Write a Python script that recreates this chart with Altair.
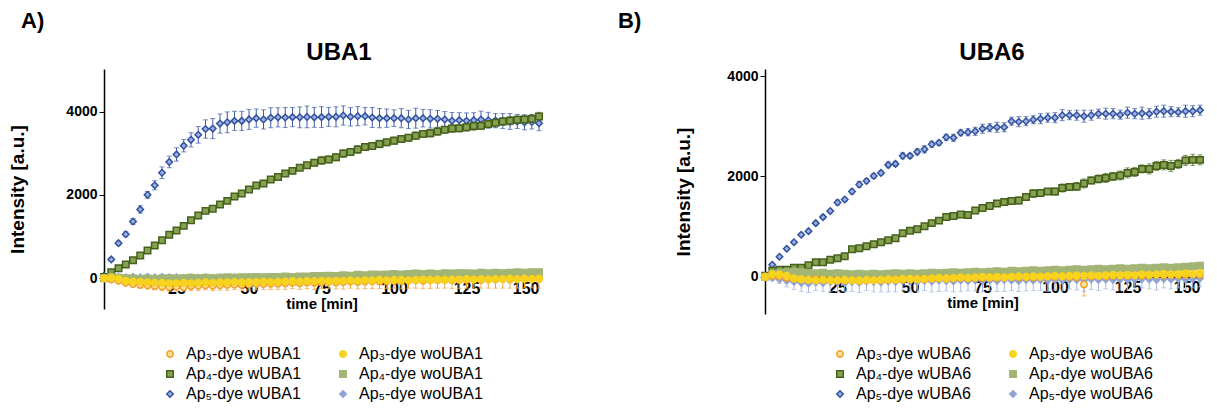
import altair as alt
import pandas as pd

FONT = "Liberation Sans"

T = [0, 2.5, 5, 7.5, 10, 12.5, 15, 17.5, 20, 22.5, 25, 27.5, 30, 32.5, 35, 37.5,
     40, 42.5, 45, 47.5, 50, 52.5, 55, 57.5, 60, 62.5, 65, 67.5, 70, 72.5, 75, 77.5,
     80, 82.5, 85, 87.5, 90, 92.5, 95, 97.5, 100, 102.5, 105, 107.5, 110, 112.5,
     115, 117.5, 120, 122.5, 125, 127.5, 130, 132.5, 135, 137.5, 140, 142.5, 145,
     147.5, 150]

X_TICKS = [25, 50, 75, 100, 125, 150]
Y_TICKS = [0, 2000, 4000]
PANEL_TAGS = ["A)", "B)"]
PANEL_TITLES = ["UBA1", "UBA6"]
# legend order (column-major): w-series in column 1, wo-series in column 2
NAMES_A = ["Ap\u2083-dye wUBA1", "Ap\u2084-dye wUBA1", "Ap\u2085-dye wUBA1",
           "Ap\u2083-dye woUBA1", "Ap\u2084-dye woUBA1", "Ap\u2085-dye woUBA1"]
NAMES_B = ["Ap\u2083-dye wUBA6", "Ap\u2084-dye wUBA6", "Ap\u2085-dye wUBA6",
           "Ap\u2083-dye woUBA6", "Ap\u2084-dye woUBA6", "Ap\u2085-dye woUBA6"]

# ---------------- Panel A (UBA1) ----------------
A_AP3_W = [0, -30, -60, -110, -140, -160, -170, -190, -200, -210,
           -200, -210, -190, -180, -170, -180, -170, -160, -150, -160,
           -150, -140, -140, -130, -130, -120, -110, -120, -100, -110,
           -100, -90, -100, -90, -80, -90, -80, -70, -80, -70,
           -60, -70, -60, -50, -60, -50, -50, -40, -50, -40,
           -40, -30, -40, -30, -30, -20, -30, -20, -20, -10,
           -20]
A_AP3_W_ERR = [20, 30, 40, 60, 70, 80, 90, 90, 100, 100,
               110, 100, 110, 120, 110, 120, 120, 130, 120, 130,
               130, 140, 130, 140, 140, 150, 140, 150, 150, 160,
               150, 160, 160, 170, 160, 170, 170, 180, 170, 180,
               180, 190, 180, 190, 190, 200, 190, 200, 200, 210,
               200, 210, 200, 210, 210, 220, 210, 220, 210, 220,
               220]
A_AP3_WO = [0, 10, -10, -60, -80, -90, -100, -110, -110, -120,
            -120, -110, -120, -110, -100, -110, -100, -100, -90, -100,
            -90, -90, -80, -90, -80, -80, -70, -80, -70, -70,
            -60, -70, -60, -60, -50, -60, -50, -50, -40, -50,
            -40, -40, -50, -40, -30, -40, -30, -40, -30, -30,
            -20, -30, -20, -30, -20, -20, -10, -20, -10, -20,
            -10]
A_AP3_WO_ERR = [10, 20, 20, 30, 30, 40, 40, 50, 40, 50,
                50, 40, 50, 50, 40, 50, 50, 40, 50, 50,
                40, 50, 50, 40, 50, 60, 50, 40, 50, 60,
                50, 60, 50, 60, 50, 60, 60, 50, 60, 50,
                60, 60, 50, 60, 60, 50, 60, 60, 50, 60,
                60, 50, 60, 60, 50, 60, 60, 50, 60, 60,
                60]
A_AP4_W = [30, 145, 240, 330, 430, 545, 665, 785, 910, 1040,
           1145, 1255, 1390, 1505, 1615, 1665, 1770, 1855, 1960, 2030,
           2130, 2225, 2270, 2370, 2430, 2510, 2575, 2650, 2710, 2770,
           2825, 2850, 2900, 2990, 3030, 3090, 3150, 3170, 3220, 3260,
           3300, 3340, 3370, 3420, 3460, 3480, 3520, 3560, 3590, 3600,
           3620, 3650, 3660, 3700, 3730, 3760, 3780, 3800, 3810, 3820,
           3880]
A_AP4_W_ERR = [10, 20, 20, 20, 30, 20, 30, 30, 30, 30,
               30, 40, 30, 40, 30, 40, 40, 40, 40, 50,
               40, 50, 50, 60, 60, 60, 70, 60, 70, 80,
               90, 80, 80, 90, 80, 90, 80, 80, 90, 80,
               90, 80, 80, 90, 80, 90, 90, 80, 90, 90,
               90, 100, 90, 90, 100, 90, 100, 90, 100, 110,
               100]
A_AP4_WO = [0, 20, 10, 0, -10, -20, -10, -20, -10, 0,
            -10, 0, 10, 0, 10, 0, 10, 20, 10, 20,
            20, 30, 20, 30, 30, 40, 30, 40, 40, 50,
            50, 60, 50, 70, 60, 80, 70, 90, 80, 90,
            100, 90, 100, 110, 100, 110, 100, 120, 110, 120,
            120, 110, 130, 120, 130, 120, 130, 140, 130, 140,
            140]
A_AP4_WO_ERR = [10, 30, 30, 40, 40, 50, 40, 50, 50, 40,
                50, 50, 40, 50, 60, 50, 50, 60, 50, 60,
                60, 50, 60, 60, 70, 60, 70, 60, 70, 70,
                60, 70, 70, 60, 70, 80, 70, 70, 80, 70,
                80, 70, 80, 80, 70, 80, 80, 70, 80, 80,
                70, 80, 80, 70, 80, 80, 70, 80, 80, 70,
                80]
A_AP5_W = [60, 450, 840, 1055, 1360, 1650, 2000, 2230, 2530, 2790,
           2970, 3180, 3320, 3440, 3580, 3590, 3710, 3740, 3775, 3775,
           3810, 3840, 3810, 3850, 3860, 3855, 3865, 3860, 3870, 3860,
           3865, 3872, 3872, 3904, 3872, 3888, 3888, 3856, 3840, 3840,
           3840, 3840, 3808, 3840, 3840, 3824, 3824, 3808, 3776, 3792,
           3776, 3792, 3808, 3790, 3780, 3770, 3760, 3760, 3740, 3750,
           3720]
A_AP5_W_ERR = [20, 40, 50, 60, 70, 90, 80, 110, 140, 140,
               160, 150, 170, 200, 220, 240, 230, 250, 230, 230,
               240, 220, 230, 240, 230, 240, 230, 250, 260, 240,
               250, 230, 240, 230, 220, 230, 210, 240, 230, 220,
               200, 230, 220, 240, 210, 220, 200, 190, 200, 180,
               190, 180, 200, 190, 170, 180, 190, 170, 180, 170,
               180]
A_AP5_WO = [0, 20, 30, 20, 30, 20, 30, 20, 30, 20,
            20, 10, 20, 10, 20, 10, 20, 10, 20, 10,
            20, 10, 20, 10, 20, 10, 10, 20, 10, 20,
            20, 30, 20, 30, 40, 30, 40, 30, 40, 30,
            30, 40, 30, 40, 30, 20, 30, 20, 30, 20,
            30, 20, 30, 20, 30, 20, 30, 20, 30, 20,
            30]
A_AP5_WO_ERR = [10, 30, 40, 40, 50, 40, 50, 40, 50, 40,
                50, 40, 50, 40, 50, 40, 50, 40, 50, 50,
                40, 50, 50, 40, 50, 50, 40, 50, 50, 40,
                50, 60, 50, 60, 70, 60, 70, 60, 70, 60,
                60, 70, 60, 70, 60, 50, 60, 50, 60, 50,
                60, 50, 60, 50, 60, 50, 60, 50, 60, 50,
                60]

# ---------------- Panel B (UBA6) ----------------
B_AP3_W = [0, 20, 10, -20, -40, -50, -60, -50, -60, -70,
           -60, -70, -60, -80, -70, -60, -70, -60, -50, -60,
           -50, -40, -50, -40, -30, -40, -30, -20, -30, -20,
           -20, -10, -20, -10, 0, -10, 0, -10, 0, 10,
           0, 10, 0, -10, -150, 10, 20, 10, 20, 30,
           20, 30, 20, 30, 40, 30, 40, 30, 40, 50,
           40]
B_AP3_W_ERR = [10, 30, 30, 40, 50, 50, 60, 50, 60, 60,
               50, 60, 60, 70, 60, 50, 60, 60, 50, 60,
               50, 60, 50, 60, 50, 60, 50, 60, 50, 60,
               50, 60, 50, 60, 50, 60, 50, 60, 50, 60,
               50, 60, 50, 60, 230, 60, 50, 60, 50, 60,
               50, 60, 50, 60, 50, 60, 50, 60, 50, 60,
               50]
B_AP3_WO = [0, 50, 50, 20, -30, -50, -60, -70, -60, -70,
            -70, -60, -70, -70, -60, -70, -60, -50, -60, -40,
            -40, -50, -40, -30, -20, -30, -20, -10, -20, -10,
            0, -10, 0, -10, 0, 10, 0, 10, 0, 10,
            20, 10, 20, 30, 20, 30, 20, 30, 40, 30,
            40, 30, 50, 40, 50, 60, 50, 60, 70, 60,
            80]
B_AP3_WO_ERR = [10, 20, 30, 30, 40, 30, 40, 30, 40, 30,
                40, 30, 40, 30, 40, 30, 40, 30, 40, 30,
                40, 30, 40, 30, 40, 30, 40, 30, 40, 30,
                40, 30, 40, 30, 40, 30, 40, 30, 40, 30,
                40, 30, 40, 30, 40, 30, 40, 30, 40, 30,
                40, 30, 40, 30, 40, 30, 40, 30, 40, 30,
                40]
B_AP4_W = [20, 120, 140, 140, 180, 180, 230, 290, 290, 340,
           370, 410, 550, 570, 610, 650, 690, 730, 770, 870,
           920, 950, 1010, 1070, 1120, 1190, 1210, 1240, 1230, 1320,
           1370, 1410, 1460, 1490, 1510, 1520, 1590, 1660, 1670, 1700,
           1700, 1770, 1790, 1800, 1860, 1920, 1950, 1970, 2000, 2020,
           2070, 2090, 2150, 2150, 2210, 2230, 2210, 2250, 2320, 2330,
           2330]
B_AP4_W_ERR = [10, 20, 20, 20, 30, 20, 30, 20, 30, 30,
               30, 30, 40, 30, 40, 30, 40, 40, 50, 40,
               50, 40, 50, 40, 50, 60, 50, 60, 50, 60,
               50, 60, 60, 70, 60, 70, 60, 80, 70, 60,
               70, 80, 70, 80, 90, 70, 80, 90, 80, 90,
               100, 90, 80, 100, 90, 100, 110, 90, 100, 110,
               100]
B_AP4_WO = [0, 60, 80, 90, 100, 90, 80, 70, 80, 60,
            70, 60, 50, 60, 50, 60, 50, 60, 70, 60,
            70, 60, 70, 80, 70, 80, 90, 80, 90, 100,
            90, 100, 110, 100, 120, 110, 120, 130, 120, 130,
            140, 130, 140, 150, 140, 150, 160, 150, 160, 170,
            160, 170, 180, 170, 180, 190, 180, 190, 200, 210,
            220]
B_AP4_WO_ERR = [10, 30, 30, 40, 30, 40, 30, 40, 30, 40,
                30, 40, 30, 40, 30, 40, 30, 40, 30, 40,
                40, 50, 40, 50, 40, 50, 40, 50, 40, 50,
                40, 50, 40, 50, 40, 50, 40, 50, 40, 50,
                50, 60, 50, 60, 50, 60, 50, 60, 50, 60,
                50, 60, 50, 60, 50, 60, 50, 60, 50, 60,
                60]
B_AP5_W = [20, 240, 400, 560, 690, 840, 910, 1070, 1190, 1310,
           1480, 1540, 1700, 1840, 1910, 2010, 2070, 2230, 2250, 2410,
           2410, 2490, 2540, 2640, 2670, 2780, 2770, 2870, 2880, 2900,
           2950, 2970, 2980, 2980, 3100, 3090, 3100, 3130, 3150, 3170,
           3170, 3220, 3220, 3220, 3200, 3220, 3250, 3250, 3250, 3230,
           3270, 3250, 3260, 3250, 3290, 3300, 3290, 3280, 3300, 3300,
           3320]
B_AP5_W_ERR = [10, 20, 20, 30, 20, 30, 30, 40, 40, 30,
               50, 40, 50, 60, 40, 50, 40, 60, 50, 60,
               50, 60, 70, 60, 50, 60, 70, 60, 70, 80,
               90, 80, 100, 90, 80, 100, 90, 80, 100, 90,
               100, 110, 90, 100, 120, 100, 90, 110, 100, 90,
               110, 100, 120, 100, 110, 120, 100, 90, 120, 110,
               100]
B_AP5_WO = [0, -20, -50, -80, -100, -120, -130, -110, -120, -100,
            -110, -120, -100, -110, -90, -100, -110, -90, -100, -80,
            -90, -100, -80, -90, -70, -80, -90, -70, -80, -70,
            -80, -70, -80, -60, -70, -80, -60, -70, -60, -70,
            -60, -70, -50, -60, -70, -50, -60, -50, -60, -50,
            -60, -50, -40, -50, -60, -40, -50, -40, -50, -40,
            -30]
B_AP5_WO_ERR = [20, 50, 80, 120, 150, 170, 180, 160, 170, 200,
                180, 170, 190, 200, 180, 200, 190, 210, 200, 190,
                210, 200, 190, 210, 220, 200, 210, 220, 200, 210,
                220, 200, 210, 230, 200, 210, 220, 200, 210, 220,
                200, 210, 190, 200, 220, 200, 210, 190, 200, 210,
                190, 200, 180, 190, 200, 180, 190, 180, 190, 180,
                170]

# ---------------- styles (same order as NAMES_*) ----------------
SHAPES = ["circle", "square", "diamond", "circle", "square", "diamond"]
FILLS = ["#FBE29A", "#86A24E", "#9DB0E2", "#F7D31E", "#A3B575", "#8FA2D4"]
STROKES = ["#F0A028", "#46611E", "#33529E", "#F7D31E", "#A3B575", "#8FA2D4"]
SIZES = [42, 42, 34, 40, 36, 26]
ERR_COLORS = ["#F2A541", "#55702A", "#3C5CA6", "#F3D040", "#B5C48F", "#A9B8E0"]
DRAW_ORDER = [4, 2, 1, 5, 3, 0]   # draw rank (higher = drawn on top)


def make_df(names, series):
    rows = []
    for i, (vals, errs) in enumerate(series):
        for t, v, e in zip(T, vals, errs):
            rows.append({"t": t, "v": v, "lo": v - e, "hi": v + e,
                         "series": names[i], "k": DRAW_ORDER[i], "ecol": ERR_COLORS[i]})
    return pd.DataFrame(rows)


def panel(df, names, title, tag, tag_x, ydom, height, xoff, tpad, leg_xy, title_x):
    xax = alt.Axis(values=X_TICKS, title="time [min]", offset=xoff, grid=False,
                   labelFont=FONT, labelFontSize=16, labelFontWeight="bold",
                   labelColor="black", labelPadding=0, tickSize=2,
                   tickColor="black", domainColor="black", domainWidth=1.5,
                   titleFont=FONT, titleFontSize=15, titleFontWeight="bold",
                   titleColor="black", titlePadding=0)
    yax = alt.Axis(values=Y_TICKS, format="d", title="Intensity [a.u.]", grid=False,
                   labelFont=FONT, labelFontWeight="bold", labelColor="black",
                   labelFontSize=14,
                   tickSize=5, tickColor="black", domainColor="black", domainWidth=1.5,
                   titleFont=FONT, titleFontSize=19, titleFontWeight="bold",
                   titleColor="black", titlePadding=tpad)
    xs = alt.Scale(domain=[0, 150], nice=False)
    ys = alt.Scale(domain=ydom, nice=False, zero=False)
    leg = alt.Legend(title=None, orient="none", legendX=leg_xy[0], legendY=leg_xy[1],
                     columns=2, columnPadding=33, rowPadding=4,
                     labelFont=FONT, labelFontSize=16, labelColor="black",
                     labelOffset=8, symbolStrokeWidth=1.5)
    base = alt.Chart(df)
    err = base.mark_errorbar(ticks={"size": 5}, thickness=1).encode(
        x=alt.X("t:Q", scale=xs, axis=xax),
        y=alt.Y("lo:Q", scale=ys, axis=yax),
        y2="hi:Q",
        color=alt.Color("ecol:N", scale=None, legend=None),
    )
    pts = base.mark_point(filled=False, strokeWidth=1.5, opacity=1, fillOpacity=1).encode(
        x=alt.X("t:Q", scale=xs, axis=xax),
        y=alt.Y("v:Q", scale=ys, axis=yax),
        shape=alt.Shape("series:N", scale=alt.Scale(domain=names, range=SHAPES), legend=leg),
        fill=alt.Fill("series:N", scale=alt.Scale(domain=names, range=FILLS), legend=leg),
        stroke=alt.Stroke("series:N", scale=alt.Scale(domain=names, range=STROKES), legend=leg),
        size=alt.Size("series:N", scale=alt.Scale(domain=names, range=SIZES), legend=leg),
        order=alt.Order("k:Q"),
    )
    lab = alt.Chart(pd.DataFrame({"lab": [tag]})).mark_text(
        align="left", baseline="top", font=FONT, fontSize=22, fontWeight="bold",
        color="black").encode(x=alt.value(tag_x), y=alt.value(-58), text="lab:N")
    ttl = alt.Chart(pd.DataFrame({"lab": [title]})).mark_text(
        align="center", baseline="bottom", font=FONT, fontSize=24, fontWeight="bold",
        color="black").encode(x=alt.value(title_x), y=alt.value(-4), text="lab:N")
    return alt.layer(err, pts, lab, ttl).properties(width=435, height=height)


df_a = make_df(NAMES_A, [(A_AP3_W, A_AP3_W_ERR), (A_AP4_W, A_AP4_W_ERR),
                         (A_AP5_W, A_AP5_W_ERR), (A_AP3_WO, A_AP3_WO_ERR),
                         (A_AP4_WO, A_AP4_WO_ERR), (A_AP5_WO, A_AP5_WO_ERR)])
df_b = make_df(NAMES_B, [(B_AP3_W, B_AP3_W_ERR), (B_AP4_W, B_AP4_W_ERR),
                         (B_AP5_W, B_AP5_W_ERR), (B_AP3_WO, B_AP3_WO_ERR),
                         (B_AP4_WO, B_AP4_WO_ERR), (B_AP5_WO, B_AP5_WO_ERR)])

pa = panel(df_a, NAMES_A, PANEL_TITLES[0], PANEL_TAGS[0], -83, [-740, 5020], 240, -31, 38,
           (58, 277), 235)
pb = panel(df_b, NAMES_B, PANEL_TITLES[1], PANEL_TAGS[1], -147, [-740, 4140], 245, -37, 33,
           (67, 277), 227)

chart = alt.hconcat(pa, pb, spacing=72).resolve_scale(
    x="independent", y="independent", color="independent", fill="independent",
    stroke="independent", shape="independent", size="independent",
).properties(
    padding={"left": 0, "top": 2, "right": 0, "bottom": 0},
).configure_view(stroke=None)

chart.save("out.html", embed_options={"renderer": "svg", "actions": False})
